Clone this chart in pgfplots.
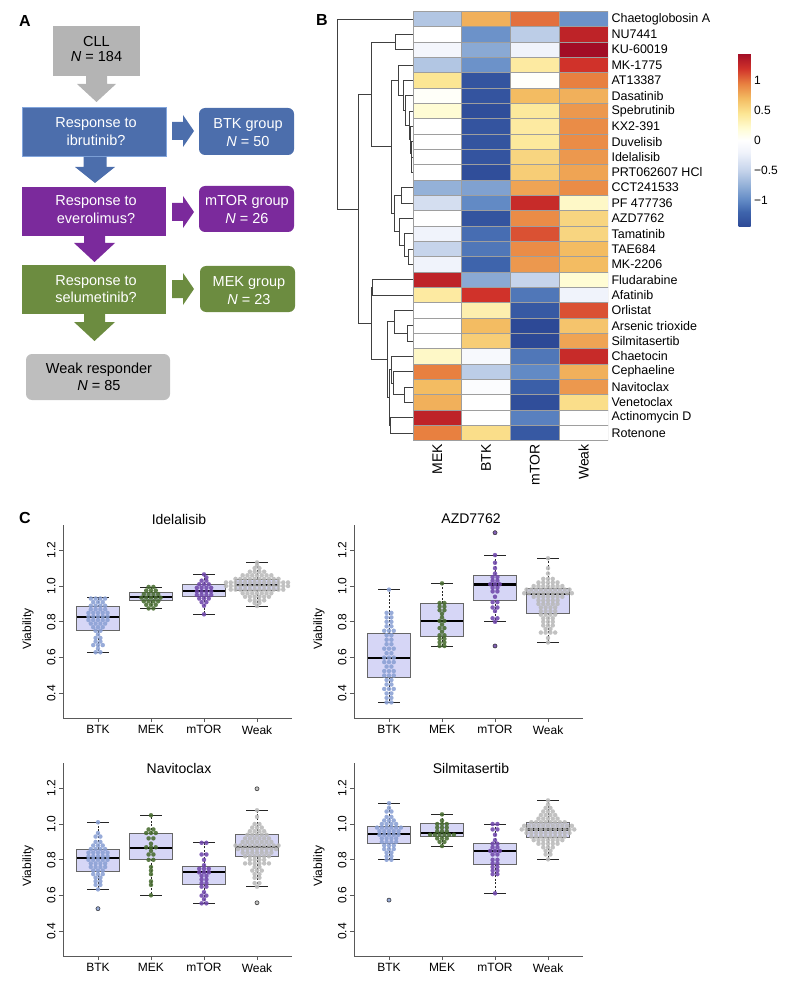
\documentclass[border=0pt]{standalone}
\usepackage{pgfplots}
\pgfplotsset{compat=1.18}
\usepgfplotslibrary{statistics}
\usepackage{fontspec}
\setmainfont{Liberation Sans}

\definecolor{fcgray}{RGB}{180,180,180}
\definecolor{fcgray2}{RGB}{190,190,190}
\definecolor{fcblue}{RGB}{76,110,172}
\definecolor{fcblueb}{RGB}{130,165,220}
\definecolor{fcpurple}{RGB}{123,42,156}
\definecolor{fcgreen}{RGB}{108,140,64}
\definecolor{btkc}{RGB}{138,160,212}
\definecolor{mekc}{RGB}{72,108,48}
\definecolor{mtorc}{RGB}{112,72,172}
\definecolor{weakc}{RGB}{185,185,185}
\definecolor{boxfill}{RGB}{214,214,246}

\pgfplotsset{
  /pgfplots/boxplot/draw/whisker/.code 2 args={%
    \draw[/pgfplots/boxplot/every whisker/.try, dash pattern=on 2pt off 1.6pt]
      (boxplot box cs:#1,0.5) -- (boxplot box cs:#2,0.5);
    \draw[/pgfplots/boxplot/every whisker/.try]
      (boxplot whisker cs:#2,0) -- (boxplot whisker cs:#2,1);
  },
  bp/.style={scale only axis, width=229pt, height=193pt,
    xmin=0.34, xmax=4.66, ymin=0.2626, ymax=1.341,
    axis x line*=bottom, axis y line*=left,
    axis line style={-, draw=black!65, line width=0.8pt},
    xtick={1,2,3,4}, xticklabels={BTK,MEK,mTOR,Weak},
    ytick={0.4,0.6,0.8,1.0,1.2}, yticklabels={0.4,0.6,0.8,1.0,1.2},
    tick align=outside, major tick length=4pt,
    tick style={draw=black!65, line width=0.8pt},
    yticklabel style={rotate=90, anchor=south, font=\fontsize{12}{12}\selectfont},
    xticklabel style={font=\fontsize{12}{12}\selectfont},
    /pgf/number format/assume math mode=true,
    clip=false,
    boxplot/draw direction=y, boxplot/box extend=0.8, boxplot/whisker extend=0.4},
  bpfill/.style={draw=none, boxplot/every box/.style={fill=boxfill, draw=none},
    boxplot/every median/.style={draw=none}, boxplot/every whisker/.style={draw=none}},
  bpline/.style={draw=black!60, boxplot/every box/.style={draw=black!60, line width=0.8pt},
    boxplot/every median/.style={draw=black, line width=2.2pt},
    boxplot/every whisker/.style={draw=black!85, line width=0.8pt}},
  swarm/.style={only marks, mark=*, color=#1, mark size=2.1pt,
    mark options={solid, draw=#1, fill=#1, line width=0.1pt, opacity=0.88}},
  outl/.style={only marks, mark=o, color=black!75, mark size=2pt, mark options={solid, line width=0.6pt}},
  dend/.style={black!75, line width=0.9pt, mark=none},
  id1/.style={boxplot prepared={draw position=1,lower whisker=.63,lower quartile=.75,median=.825,upper quartile=.884,upper whisker=.935}},
  id2/.style={boxplot prepared={draw position=2,lower whisker=.875,lower quartile=.918,median=.937,upper quartile=.963,upper whisker=.995}},
  id3/.style={boxplot prepared={draw position=3,lower whisker=.842,lower quartile=.94,median=.974,upper quartile=1.011,upper whisker=1.065}},
  id4/.style={boxplot prepared={draw position=4,lower whisker=.888,lower quartile=.978,median=1.006,upper quartile=1.039,upper whisker=1.132}},
  az1/.style={boxplot prepared={draw position=1,lower whisker=.35,lower quartile=.49,median=.596,upper quartile=.736,upper whisker=.98}},
  az2/.style={boxplot prepared={draw position=2,lower whisker=.665,lower quartile=.717,median=.806,upper quartile=.903,upper whisker=1.015}},
  az3/.style={boxplot prepared={draw position=3,lower whisker=.80,lower quartile=.922,median=1.009,upper quartile=1.06,upper whisker=1.173}},
  az4/.style={boxplot prepared={draw position=4,lower whisker=.685,lower quartile=.847,median=.955,upper quartile=.987,upper whisker=1.155}},
  nv1/.style={boxplot prepared={draw position=1,lower whisker=.635,lower quartile=.737,median=.812,upper quartile=.859,upper whisker=1.01}},
  nv2/.style={boxplot prepared={draw position=2,lower whisker=.602,lower quartile=.803,median=.868,upper quartile=.948,upper whisker=1.049}},
  nv3/.style={boxplot prepared={draw position=3,lower whisker=.557,lower quartile=.663,median=.732,upper quartile=.764,upper whisker=.895}},
  nv4/.style={boxplot prepared={draw position=4,lower whisker=.65,lower quartile=.817,median=.872,upper quartile=.942,upper whisker=1.077}},
  sl1/.style={boxplot prepared={draw position=1,lower whisker=.80,lower quartile=.892,median=.946,upper quartile=.985,upper whisker=1.116}},
  sl2/.style={boxplot prepared={draw position=2,lower whisker=.877,lower quartile=.933,median=.95,upper quartile=1.004,upper whisker=1.054}},
  sl3/.style={boxplot prepared={draw position=3,lower whisker=.613,lower quartile=.775,median=.849,upper quartile=.892,upper whisker=1.0}},
  sl4/.style={boxplot prepared={draw position=4,lower whisker=.803,lower quartile=.924,median=.97,upper quartile=1.011,upper whisker=1.132}},
}

\begin{document}
\begin{tikzpicture}
\path[use as bounding box] (0,0) rectangle (789pt,-981pt);

% ---------------- Panel A : flowchart ----------------
\begin{scope}[x=1pt,y=-1pt]
\def\ff{\fontsize{14.5}{16}\selectfont}
\node[font=\bfseries\fontsize{16}{16}\selectfont] at (25,21) {A};
\node[font=\bfseries\fontsize{16}{16}\selectfont] at (322,20) {B};
\node[font=\bfseries\fontsize{16}{16}\selectfont] at (25,518) {C};

\fill[fcgray] (53,26) rectangle (140,76);
\node[anchor=base, font=\ff] at (96.5,47) {CLL};
\node[anchor=base, font=\ff] at (96.5,62) {\textit{N} = 184};
\fill[fcgray] (86,76) -- (107,76) -- (107,84) -- (116,84) -- (96.5,102) -- (77,84) -- (86,84) -- cycle;

\filldraw[fill=fcblue, draw=fcblueb, line width=1pt] (22,108) rectangle (166,157);
\node[anchor=base, font=\ff, white] at (96,128) {Response to};
\node[anchor=base, font=\ff, white] at (96,146) {ibrutinib?};
\fill[fcblue] (172,122) -- (183,122) -- (183,115) -- (194,131) -- (183,147) -- (183,140) -- (172,140) -- cycle;
\fill[fcblue, rounded corners=6pt] (199,108) rectangle (294,155);
\node[anchor=base, font=\ff, white] at (248,129) {BTK group};
\node[anchor=base, font=\ff, white] at (248,147) {\textit{N} = 50};
\fill[fcblue] (83.5,157) -- (106.5,157) -- (106.5,167) -- (115,167) -- (95,183) -- (75,167) -- (83.5,167) -- cycle;

\fill[fcpurple] (22,187) rectangle (166,236);
\node[anchor=base, font=\ff, white] at (96,206) {Response to};
\node[anchor=base, font=\ff, white] at (96,224) {everolimus?};
\fill[fcpurple] (172,203) -- (183,203) -- (183,196) -- (194,212) -- (183,228) -- (183,221) -- (172,221) -- cycle;
\fill[fcpurple, rounded corners=6pt] (199,186) rectangle (294,232);
\node[anchor=base, font=\ff, white] at (247,206) {mTOR group};
\node[anchor=base, font=\ff, white] at (247,224) {\textit{N} = 26};
\fill[fcpurple] (84,236) -- (105,236) -- (105,243) -- (115,243) -- (94.5,262) -- (74,243) -- (84,243) -- cycle;

\fill[fcgreen] (22,265) rectangle (166,314);
\node[anchor=base, font=\ff, white] at (96,285) {Response to};
\node[anchor=base, font=\ff, white] at (96,302) {selumetinib?};
\fill[fcgreen] (172,280) -- (183,280) -- (183,273) -- (194,289) -- (183,305) -- (183,298) -- (172,298) -- cycle;
\fill[fcgreen, rounded corners=6pt] (200,266) rectangle (295,312);
\node[anchor=base, font=\ff, white] at (249,287) {MEK group};
\node[anchor=base, font=\ff, white] at (249,304) {\textit{N} = 23};
\fill[fcgreen] (84,314) -- (105,314) -- (105,322) -- (115,322) -- (94.5,341) -- (74,322) -- (84,322) -- cycle;

\fill[fcgray2, rounded corners=6pt] (26,354) rectangle (170,400);
\node[anchor=base, font=\ff] at (99,373) {Weak responder};
\node[anchor=base, font=\ff] at (99,390) {\textit{N} = 85};

% panel C titles and labels
\def\tf{\fontsize{14}{14}\selectfont}
\node[font=\tf] at (179,519) {Idelalisib};
\node[font=\tf] at (471,519) {AZD7762};
\node[font=\tf] at (179,768) {Navitoclax};
\node[font=\tf] at (471,768) {Silmitasertib};
\node[rotate=90, font=\fontsize{12}{12}\selectfont] at (28,629) {Viability};
\node[rotate=90, font=\fontsize{12}{12}\selectfont] at (319,629) {Viability};
\node[rotate=90, font=\fontsize{12}{12}\selectfont] at (28,866) {Viability};
\node[rotate=90, font=\fontsize{12}{12}\selectfont] at (319,866) {Viability};
\end{scope}

% ---------------- Panel B : dendrogram ----------------
\begin{axis}[at={(332pt,-440.7pt)}, anchor=south west, scale only axis,
  width=81pt, height=429.4pt, xmin=332, xmax=413, ymin=0.5, ymax=28.5,
  y dir=reverse, hide axis, clip=false]
\addplot[dend] coordinates {(413,1)(337,1)(337,13.39)(358,13.39)};
\addplot[dend] coordinates {(371,5.92)(358,5.92)(358,20.86)(371,20.86)};
\addplot[dend] coordinates {(395,2.5)(371,2.5)(371,9.34)(391,9.34)};
\addplot[dend] coordinates {(413,2)(395,2)(395,3)(413,3)};
\addplot[dend] coordinates {(398,4.992)(391,4.992)(391,13.688)(394,13.688)};
\addplot[dend] coordinates {(413,4)(398,4)(398,5.984)(403,5.984)};
\addplot[dend] coordinates {(413,5)(403,5)(403,6.969)(405,6.969)};
\addplot[dend] coordinates {(413,6)(405,6)(405,7.938)(409,7.938)};
\addplot[dend] coordinates {(413,7)(409,7)(409,8.875)(410,8.875)};
\addplot[dend] coordinates {(413,8)(410,8)(410,9.75)(411,9.75)};
\addplot[dend] coordinates {(413,9)(411,9)(411,10.5)(411.5,10.5)};
\addplot[dend] coordinates {(413,10)(411.5,10)(411.5,11)(413,11)};
\addplot[dend] coordinates {(401,12.5)(394,12.5)(394,14.875)(399,14.875)};
\addplot[dend] coordinates {(413,12)(401,12)(401,13)(413,13)};
\addplot[dend] coordinates {(413,14)(399,14)(399,15.75)(404,15.75)};
\addplot[dend] coordinates {(413,15)(404,15)(404,16.5)(408,16.5)};
\addplot[dend] coordinates {(413,16)(408,16)(408,17)(413,17)};
\addplot[dend] coordinates {(372,18.5)(371,18.5)(371,23.22)(387,23.22)};
\addplot[dend] coordinates {(413,18)(372,18)(372,19)(413,19)};
\addplot[dend] coordinates {(394,20.75)(387,20.75)(387,25.69)(389,25.69)};
\addplot[dend] coordinates {(413,20)(394,20)(394,21.5)(407,21.5)};
\addplot[dend] coordinates {(413,21)(407,21)(407,22)(413,22)};
\addplot[dend] coordinates {(391.5,23.875)(389,23.875)(389,27.5)(390,27.5)};
\addplot[dend] coordinates {(413,23)(391.5,23)(391.5,24.75)(393,24.75)};
\addplot[dend] coordinates {(413,24)(393,24)(393,25.5)(404,25.5)};
\addplot[dend] coordinates {(413,25)(404,25)(404,26)(413,26)};
\addplot[dend] coordinates {(413,27)(390,27)(390,28)(413,28)};
\end{axis}

% ---------------- Panel B : heatmap ----------------
\begin{axis}[at={(413pt,-440.7pt)}, anchor=south west, scale only axis,
  width=195pt, height=429.4pt, xmin=0, xmax=4, ymin=0.5, ymax=28.5,
  y dir=reverse, enlargelimits=false,
  axis line style={draw=none}, tick style={draw=none},
  xtick={0.5,1.5,2.5,3.5}, xticklabels={MEK,BTK,mTOR,Weak},
  xticklabel style={rotate=90, anchor=east, font=\fontsize{14}{14}\selectfont},
  ytick={1,...,28},
  yticklabels={Chaetoglobosin A,NU7441,KU-60019,MK-1775,AT13387,Dasatinib,Spebrutinib,KX2-391,Duvelisib,Idelalisib,PRT062607 HCl,CCT241533,PF 477736,AZD7762,Tamatinib,TAE684,MK-2206,Fludarabine,Afatinib,Orlistat,Arsenic trioxide,Silmitasertib,Chaetocin,Cephaeline,Navitoclax,Venetoclax,Actinomycin D,Rotenone},
  yticklabel pos=right,
  yticklabel style={anchor=west, font=\fontsize{12.5}{12.5}\selectfont},
  colormap={heat}{rgb255(0cm)=(45,73,150); rgb255(0.25cm)=(62,100,172); rgb255(0.45cm)=(98,138,197); rgb255(0.70cm)=(148,177,216); rgb255(0.95cm)=(198,212,235); rgb255(1.25cm)=(240,243,251); rgb255(1.45cm)=(255,255,255); rgb255(1.65cm)=(255,252,212); rgb255(1.90cm)=(252,230,148); rgb255(2.15cm)=(243,188,98); rgb255(2.40cm)=(232,128,64); rgb255(2.65cm)=(208,50,42); rgb255(2.91cm)=(160,12,38)},
  point meta min=-1.45, point meta max=1.46,
  colorbar,
  colorbar style={at={(parent axis.north east)}, anchor=north west,
    xshift=122pt, yshift=-41.7pt, scale only axis, width=12pt, height=174pt,
    y dir=normal, ytick={-1,-0.5,0,0.5,1}, yticklabels={−1,−0.5,0,0.5,1},
    yticklabel style={font=\fontsize{12}{12}\selectfont, anchor=west},
    major tick length=0pt, axis line style={draw=none}, tick style={draw=none}},
]
\addplot[matrix plot*, shader=faceted, faceted color=black!38, line width=0.7pt,
  mesh/cols=4, point meta=explicit] table[row sep=\\, meta=v] {
x y v\\
0.5 1 -0.6\\ 1.5 1 0.75\\ 2.5 1 1.0\\ 3.5 1 -0.95\\
0.5 2 0\\ 1.5 2 -0.95\\ 2.5 2 -0.55\\ 3.5 2 1.3\\
0.5 3 -0.15\\ 1.5 3 -0.8\\ 2.5 3 -0.2\\ 3.5 3 1.45\\
0.5 4 -0.6\\ 1.5 4 -0.95\\ 2.5 4 0.4\\ 3.5 4 1.2\\
0.5 5 0.45\\ 1.5 5 -1.35\\ 2.5 5 0.02\\ 3.5 5 0.95\\
0.5 6 0.03\\ 1.5 6 -1.35\\ 2.5 6 0.7\\ 3.5 6 0.75\\
0.5 7 0.2\\ 1.5 7 -1.4\\ 2.5 7 0.42\\ 3.5 7 0.85\\
0.5 8 0\\ 1.5 8 -1.35\\ 2.5 8 0.4\\ 3.5 8 0.9\\
0.5 9 0\\ 1.5 9 -1.35\\ 2.5 9 0.42\\ 3.5 9 0.9\\
0.5 10 0\\ 1.5 10 -1.35\\ 2.5 10 0.55\\ 3.5 10 0.85\\
0.5 11 0\\ 1.5 11 -1.4\\ 2.5 11 0.6\\ 3.5 11 0.8\\
0.5 12 -0.75\\ 1.5 12 -0.85\\ 2.5 12 0.8\\ 3.5 12 0.9\\
0.5 13 -0.4\\ 1.5 13 -1.0\\ 2.5 13 1.25\\ 3.5 13 0.25\\
0.5 14 0\\ 1.5 14 -1.35\\ 2.5 14 0.9\\ 3.5 14 0.55\\
0.5 15 -0.2\\ 1.5 15 -1.15\\ 2.5 15 1.1\\ 3.5 15 0.55\\
0.5 16 -0.5\\ 1.5 16 -1.1\\ 2.5 16 0.9\\ 3.5 16 0.7\\
0.5 17 -0.2\\ 1.5 17 -1.2\\ 2.5 17 0.85\\ 3.5 17 0.7\\
0.5 18 1.3\\ 1.5 18 -0.8\\ 2.5 18 -0.5\\ 3.5 18 0.2\\
0.5 19 0.4\\ 1.5 19 1.2\\ 2.5 19 -1.1\\ 3.5 19 -0.2\\
0.5 20 0\\ 1.5 20 0.35\\ 2.5 20 -1.3\\ 3.5 20 1.1\\
0.5 21 0\\ 1.5 21 0.7\\ 2.5 21 -1.45\\ 3.5 21 0.65\\
0.5 22 0\\ 1.5 22 0.6\\ 2.5 22 -1.45\\ 3.5 22 0.8\\
0.5 23 0.25\\ 1.5 23 -0.1\\ 2.5 23 -1.1\\ 3.5 23 1.25\\
0.5 24 0.95\\ 1.5 24 -0.55\\ 2.5 24 -1.0\\ 3.5 24 0.75\\
0.5 25 0.7\\ 1.5 25 -0.05\\ 2.5 25 -1.25\\ 3.5 25 0.85\\
0.5 26 0.75\\ 1.5 26 0\\ 2.5 26 -1.4\\ 3.5 26 0.5\\
0.5 27 1.3\\ 1.5 27 0\\ 2.5 27 -1.05\\ 3.5 27 0\\
0.5 28 0.95\\ 1.5 28 0.5\\ 2.5 28 -1.3\\ 3.5 28 0\\
};
\end{axis}

% ---------------- Panel C : Idelalisib ----------------
\begin{axis}[bp, at={(63pt,-718pt)}, anchor=south west]
\addplot[bpfill, id1] coordinates {};
\addplot[bpfill, id2] coordinates {};
\addplot[bpfill, id3] coordinates {};
\addplot[bpfill, id4] coordinates {};
\addplot[swarm=btkc, x filter/.expression={1+0.045*x}] coordinates {
(-1,.63)(1,.63)(0,.65)(-2,.67)(0,.67)(2,.67)(-1,.69)(1,.69)(-1,.71)(1,.71)(0,.73)(-1,.75)(1,.75)
(-2,.77)(0,.77)(2,.77)(-3,.79)(-1,.79)(1,.79)(3,.79)(-4,.81)(-2,.81)(0,.81)(2,.81)(4,.81)
(-4,.83)(-2,.83)(0,.83)(2,.83)(4,.83)(-4,.85)(-2,.85)(0,.85)(2,.85)(4,.85)
(-3,.87)(-1,.87)(1,.87)(3,.87)(-3,.89)(-1,.89)(1,.89)(3,.89)(-2,.91)(0,.91)(2,.91)
(-3,.93)(-1,.93)(1,.93)(3,.93)};
\addplot[swarm=mekc, x filter/.expression={2+0.045*x}] coordinates {
(-1,.875)(1,.875)(-2,.895)(0,.895)(2,.895)(-3,.915)(-1,.915)(1,.915)(3,.915)
(-4,.935)(-2,.935)(0,.935)(2,.935)(4,.935)(-3,.955)(-1,.955)(1,.955)(3,.955)
(-2,.975)(0,.975)(2,.975)(-1,.995)(1,.995)};
\addplot[swarm=mtorc, x filter/.expression={3+0.045*x}] coordinates {
(0,.842)(0,.89)(-1,.91)(1,.91)(-2,.93)(0,.93)(2,.93)(-3,.95)(-1,.95)(1,.95)(3,.95)
(-3,.97)(-1,.97)(1,.97)(3,.97)(-3,.99)(-1,.99)(1,.99)(3,.99)(-2,1.01)(0,1.01)(2,1.01)
(-1,1.03)(1,1.03)(1,1.048)(0,1.065)};
\addplot[swarm=weakc, x filter/.expression={4+0.045*x}] coordinates {
(0,.888)(-1,.905)(1,.905)(-3,.92)(-1,.92)(1,.92)(3,.92)
(-5,.94)(-3,.94)(-1,.94)(1,.94)(3,.94)(5,.94)
(-6,.96)(-4,.96)(-2,.96)(0,.96)(2,.96)(4,.96)(6,.96)
(-11,.98)(-9,.98)(-7,.98)(-5,.98)(-3,.98)(-1,.98)(1,.98)(3,.98)(5,.98)(7,.98)(9,.98)(11,.98)
(-13,1)(-11,1)(-9,1)(-7,1)(-5,1)(-3,1)(-1,1)(1,1)(3,1)(5,1)(7,1)(9,1)(11,1)(13,1)
(-13,1.02)(-11,1.02)(-9,1.02)(-7,1.02)(-5,1.02)(-3,1.02)(-1,1.02)(1,1.02)(3,1.02)(5,1.02)(7,1.02)(9,1.02)(11,1.02)(13,1.02)
(-9,1.04)(-7,1.04)(-5,1.04)(-3,1.04)(-1,1.04)(1,1.04)(3,1.04)(5,1.04)(7,1.04)(9,1.04)
(-6,1.06)(-4,1.06)(-2,1.06)(0,1.06)(2,1.06)(4,1.06)(6,1.06)
(-3,1.08)(-1,1.08)(1,1.08)(3,1.08)(-1,1.1)(1,1.1)(0,1.115)(0,1.132)};
\addplot[bpline, id1] coordinates {};
\addplot[bpline, id2] coordinates {};
\addplot[bpline, id3] coordinates {};
\addplot[bpline, id4] coordinates {};
\end{axis}

% ---------------- Panel C : AZD7762 ----------------
\begin{axis}[bp, at={(354pt,-718pt)}, anchor=south west]
\addplot[bpfill, az1] coordinates {};
\addplot[bpfill, az2] coordinates {};
\addplot[bpfill, az3] coordinates {};
\addplot[bpfill, az4] coordinates {};
\addplot[swarm=btkc, x filter/.expression={1+0.045*x}] coordinates {
(-1,.35)(1,.35)(-1,.375)(1,.375)(-1,.40)(1,.40)(-2,.425)(0,.425)(2,.425)(-1,.45)(1,.45)
(-1,.475)(1,.475)(-2,.50)(0,.50)(2,.50)(-2,.525)(0,.525)(2,.525)(-1,.55)(1,.55)
(-2,.575)(0,.575)(2,.575)(-2,.60)(0,.60)(2,.60)(-1,.625)(1,.625)(-2,.65)(0,.65)(2,.65)
(-1,.675)(1,.675)(-1,.70)(1,.70)(-1,.725)(1,.725)(-2,.75)(0,.75)(2,.75)(-1,.775)(1,.775)
(-1,.80)(1,.80)(-1,.825)(1,.825)(-1,.85)(1,.85)(0,.98)};
\addplot[swarm=mekc, x filter/.expression={2+0.045*x}] coordinates {
(-1,.665)(1,.665)(-1,.685)(1,.685)(-1,.705)(1,.705)(-1,.725)(1,.725)(0,.745)
(-1,.765)(1,.765)(0,.785)(-1,.805)(1,.805)(0,.825)(0,.845)(-1,.865)(1,.865)
(-1,.885)(1,.885)(-1,.905)(1,.905)(0,1.015)};
\addplot[swarm=mtorc, x filter/.expression={3+0.045*x}] coordinates {
(0,.665)(0,.80)(-1,.82)(1,.82)(0,.86)(-1,.88)(1,.88)(-1,.91)(1,.91)(0,.94)
(-1,.97)(1,.97)(-1,.99)(1,.99)(-2,1.01)(0,1.01)(2,1.01)(-1,1.03)(1,1.03)
(-1,1.05)(1,1.05)(0,1.07)(0,1.10)(0,1.13)(0,1.173)(0,1.298)};
\addplot[swarm=weakc, x filter/.expression={4+0.045*x}] coordinates {
(0,.685)(0,.71)(-3,.74)(-1,.74)(1,.74)(3,.74)(-1,.76)(1,.76)
(-2,.78)(0,.78)(2,.78)(-2,.80)(0,.80)(2,.80)(-2,.82)(0,.82)(2,.82)
(-3,.84)(-1,.84)(1,.84)(3,.84)(-3,.86)(-1,.86)(1,.86)(3,.86)(-3,.88)(-1,.88)(1,.88)(3,.88)
(-4,.90)(-2,.90)(0,.90)(2,.90)(4,.90)(-4,.92)(-2,.92)(0,.92)(2,.92)(4,.92)
(-6,.94)(-4,.94)(-2,.94)(0,.94)(2,.94)(4,.94)(6,.94)
(-10,.96)(-8,.96)(-6,.96)(-4,.96)(-2,.96)(0,.96)(2,.96)(4,.96)(6,.96)(8,.96)(10,.96)
(-9,.98)(-7,.98)(-5,.98)(-3,.98)(-1,.98)(1,.98)(3,.98)(5,.98)(7,.98)(9,.98)
(-6,1)(-4,1)(-2,1)(0,1)(2,1)(4,1)(6,1)(-4,1.02)(-2,1.02)(0,1.02)(2,1.02)(4,1.02)
(-2,1.04)(0,1.04)(2,1.04)(0,1.07)(0,1.10)(0,1.155)};
\addplot[bpline, az1] coordinates {};
\addplot[bpline, az2] coordinates {};
\addplot[bpline, az3] coordinates {};
\addplot[bpline, az4] coordinates {};
\addplot[outl] coordinates {(3,.665)(3,1.298)};
\end{axis}

% ---------------- Panel C : Navitoclax ----------------
\begin{axis}[bp, at={(63pt,-956pt)}, anchor=south west]
\addplot[bpfill, nv1] coordinates {};
\addplot[bpfill, nv2] coordinates {};
\addplot[bpfill, nv3] coordinates {};
\addplot[bpfill, nv4] coordinates {};
\addplot[swarm=btkc, x filter/.expression={1+0.045*x}] coordinates {
(0,.527)(0,.635)(-1,.66)(1,.66)(-1,.68)(1,.68)(-1,.70)(1,.70)(-2,.72)(0,.72)(2,.72)
(-2,.74)(0,.74)(2,.74)(-3,.76)(-1,.76)(1,.76)(3,.76)(-3,.78)(-1,.78)(1,.78)(3,.78)
(-4,.80)(-2,.80)(0,.80)(2,.80)(4,.80)(-4,.82)(-2,.82)(0,.82)(2,.82)(4,.82)
(-4,.84)(-2,.84)(0,.84)(2,.84)(4,.84)(-3,.86)(-1,.86)(1,.86)(3,.86)
(-2,.88)(0,.88)(2,.88)(-1,.90)(1,.90)(-1,.93)(1,.93)(0,.95)(0,1.01)};
\addplot[swarm=mekc, x filter/.expression={2+0.045*x}] coordinates {
(0,.602)(0,.66)(0,.68)(0,.72)(0,.74)(0,.76)(-1,.80)(1,.80)(-1,.83)(1,.83)(0,.85)
(-2,.87)(0,.87)(2,.87)(0,.89)(-1,.92)(1,.92)(-2,.95)(0,.95)(2,.95)(-1,.97)(1,.97)(0,1.049)};
\addplot[swarm=mtorc, x filter/.expression={3+0.045*x}] coordinates {
(-1,.557)(1,.557)(0,.58)(-1,.60)(1,.60)(0,.62)(-1,.65)(1,.65)(-1,.67)(1,.67)
(-1,.69)(1,.69)(-1,.71)(1,.71)(-2,.73)(0,.73)(2,.73)(-2,.75)(0,.75)(2,.75)
(0,.77)(0,.80)(-1,.83)(1,.83)(-1,.895)(1,.895)};
\addplot[swarm=weakc, x filter/.expression={4+0.045*x}] coordinates {
(0,.56)(0,.65)(-1,.67)(1,.67)(-1,.70)(1,.70)(-1,.72)(1,.72)(-2,.74)(0,.74)(2,.74)(-1,.76)(1,.76)
(-5,.78)(-3,.78)(-1,.78)(1,.78)(3,.78)(5,.78)(-3,.80)(-1,.80)(1,.80)(3,.80)
(-5,.82)(-3,.82)(-1,.82)(1,.82)(3,.82)(5,.82)
(-6,.84)(-4,.84)(-2,.84)(0,.84)(2,.84)(4,.84)(6,.84)
(-8,.86)(-6,.86)(-4,.86)(-2,.86)(0,.86)(2,.86)(4,.86)(6,.86)(8,.86)
(-9,.88)(-7,.88)(-5,.88)(-3,.88)(-1,.88)(1,.88)(3,.88)(5,.88)(7,.88)(9,.88)
(-6,.90)(-4,.90)(-2,.90)(0,.90)(2,.90)(4,.90)(6,.90)
(-5,.92)(-3,.92)(-1,.92)(1,.92)(3,.92)(5,.92)
(-4,.94)(-2,.94)(0,.94)(2,.94)(4,.94)(-3,.96)(-1,.96)(1,.96)(3,.96)
(-2,.98)(0,.98)(2,.98)(-1,1)(1,1)(0,1.04)(0,1.077)(0,1.197)};
\addplot[bpline, nv1] coordinates {};
\addplot[bpline, nv2] coordinates {};
\addplot[bpline, nv3] coordinates {};
\addplot[bpline, nv4] coordinates {};
\addplot[outl] coordinates {(1,.527)(4,.56)(4,1.197)};
\end{axis}

% ---------------- Panel C : Silmitasertib ----------------
\begin{axis}[bp, at={(354pt,-956pt)}, anchor=south west]
\addplot[bpfill, sl1] coordinates {};
\addplot[bpfill, sl2] coordinates {};
\addplot[bpfill, sl3] coordinates {};
\addplot[bpfill, sl4] coordinates {};
\addplot[swarm=btkc, x filter/.expression={1+0.045*x}] coordinates {
(0,.575)(-1,.80)(1,.80)(-1,.82)(1,.82)(-1,.84)(1,.84)(-2,.86)(0,.86)(2,.86)
(-2,.88)(0,.88)(2,.88)(-3,.90)(-1,.90)(1,.90)(3,.90)(-3,.92)(-1,.92)(1,.92)(3,.92)
(-4,.94)(-2,.94)(0,.94)(2,.94)(4,.94)(-4,.96)(-2,.96)(0,.96)(2,.96)(4,.96)
(-5,.98)(-3,.98)(-1,.98)(1,.98)(3,.98)(5,.98)(-3,1)(-1,1)(1,1)(3,1)
(-2,1.02)(0,1.02)(2,1.02)(-1,1.04)(1,1.04)(-1,1.07)(1,1.07)(0,1.09)(0,1.116)};
\addplot[swarm=mekc, x filter/.expression={2+0.045*x}] coordinates {
(0,.877)(-1,.90)(1,.90)(-2,.92)(0,.92)(2,.92)(-5,.94)(-3,.94)(-1,.94)(1,.94)(3,.94)(5,.94)
(-2,.96)(0,.96)(2,.96)(-2,.98)(0,.98)(2,.98)(-2,1)(0,1)(2,1)(0,1.02)(0,1.054)};
\addplot[swarm=mtorc, x filter/.expression={3+0.045*x}] coordinates {
(0,.613)(-1,.72)(1,.72)(-1,.74)(1,.74)(-1,.76)(1,.76)(-1,.78)(1,.78)(-1,.80)(1,.80)
(-1,.83)(1,.83)(-2,.85)(0,.85)(2,.85)(-1,.87)(1,.87)(-1,.89)(1,.89)(0,.91)(0,.94)
(-1,.97)(1,.97)(-1,1)(1,1)};
\addplot[swarm=weakc, x filter/.expression={4+0.045*x}] coordinates {
(0,.803)(-1,.83)(1,.83)(-1,.85)(1,.85)(-2,.87)(0,.87)(2,.87)
(-4,.89)(-2,.89)(0,.89)(2,.89)(4,.89)(-6,.91)(-4,.91)(-2,.91)(0,.91)(2,.91)(4,.91)(6,.91)
(-7,.93)(-5,.93)(-3,.93)(-1,.93)(1,.93)(3,.93)(5,.93)(7,.93)
(-9,.95)(-7,.95)(-5,.95)(-3,.95)(-1,.95)(1,.95)(3,.95)(5,.95)(7,.95)(9,.95)
(-11,.97)(-9,.97)(-7,.97)(-5,.97)(-3,.97)(-1,.97)(1,.97)(3,.97)(5,.97)(7,.97)(9,.97)(11,.97)
(-10,.99)(-8,.99)(-6,.99)(-4,.99)(-2,.99)(0,.99)(2,.99)(4,.99)(6,.99)(8,.99)(10,.99)
(-7,1.01)(-5,1.01)(-3,1.01)(-1,1.01)(1,1.01)(3,1.01)(5,1.01)(7,1.01)
(-4,1.03)(-2,1.03)(0,1.03)(2,1.03)(4,1.03)(-3,1.05)(-1,1.05)(1,1.05)(3,1.05)
(-2,1.07)(0,1.07)(2,1.07)(-1,1.09)(1,1.09)(0,1.11)(0,1.132)};
\addplot[bpline, sl1] coordinates {};
\addplot[bpline, sl2] coordinates {};
\addplot[bpline, sl3] coordinates {};
\addplot[bpline, sl4] coordinates {};
\addplot[outl] coordinates {(1,.575)};
\end{axis}
\end{tikzpicture}
\end{document}
